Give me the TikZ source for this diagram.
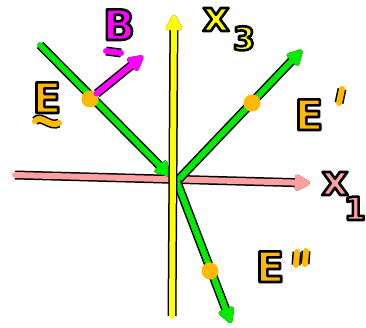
\documentclass[tikz,border=0pt]{standalone}
\usepackage{fontspec}
\setmainfont{DejaVu Sans}
\usetikzlibrary{arrows.meta}
\definecolor{gr}{RGB}{0,235,0}
\definecolor{yl}{RGB}{255,255,0}
\definecolor{pk}{RGB}{255,160,160}
\definecolor{og}{RGB}{255,185,0}
\definecolor{mg}{RGB}{255,0,255}
\newcommand\outl[2]{{\color{#1}\special{pdf:code q 0 0 0 RG 2 Tr 2.6 w 1 j}#2\special{pdf:code Q}}}
\begin{document}
\begin{tikzpicture}[x=1pt,y=-1pt,
  hs/.style={line width=6pt, line cap=round, line join=round, draw=#1,
             preaction={draw=black, line width=9pt}},
  tip/.style={-{Triangle[length=18pt,width=18pt,round]}},
  dot/.style={circle, fill=og, inner sep=0pt, minimum size=17pt},
  lab/.style={font=\fontsize{42}{42}\selectfont\bfseries, inner sep=0pt, anchor=base},
  sub/.style={font=\fontsize{32}{32}\selectfont\bfseries, inner sep=0pt, anchor=base}]
\useasboundingbox (0,0) rectangle (366,328);
\coordinate (O) at (174,179);
\coordinate (x1s) at (15,175);
\coordinate (x1e) at (310,183);
\coordinate (x3s) at (172,316);
\coordinate (x3e) at (174,15);
\coordinate (Es) at (40,45);
\coordinate (Ee) at (170,176);
\coordinate (Eps) at (178,180);
\coordinate (Epe) at (302,50);
\coordinate (Epps) at (177,182);
\coordinate (Eppe) at (231,323);
\coordinate (Bt) at (143,56);
% axes and lines
\draw[hs=pk, tip] (x1s) -- (x1e);
\draw[hs=gr, tip] (Es) -- (Ee);
\draw[hs=gr, tip] (Eps) -- (Epe);
\draw[hs=gr, tip] (Epps) -- (Eppe);
\draw[hs=yl, tip] (x3s) -- (x3e);
% dots
\node[dot] (Ed) at (90,99) {};
\node[dot] (Epd) at (252,103) {};
\node[dot] (Eppd) at (210,271) {};
\draw[hs=mg, tip] (Ed) -- (Bt);
% labels
\node[lab] (Bl) at (119,40) {\outl{mg}{B}};
\coordinate (Bu1) at (106,51);
\coordinate (Bu2) at (121,53);
\draw[hs=mg] (Bu1) -- (Bu2);
\node[lab] (El) at (47,113) {\outl{og}{E}};
\coordinate (Et1) at (35,121);
\coordinate (Et2) at (59,123);
\draw[hs=og] (Et1) .. controls (41,114) and (50,128) .. (Et2);
\node[lab] (Epl) at (309,130) {\outl{og}{E}};
\coordinate (Ep1) at (342,89);
\coordinate (Ep2) at (339,103);
\draw[hs=og] (Ep1) -- (Ep2);
\node[lab] (Eppl) at (270,282) {\outl{og}{E}};
\coordinate (Eq1) at (297,252);
\coordinate (Eq2) at (296,265);
\coordinate (Eq3) at (306,251);
\coordinate (Eq4) at (305,264);
\draw[hs=og] (Eq1) -- (Eq2);
\draw[hs=og] (Eq3) -- (Eq4);
\node[lab] (x3l) at (216,31) {\outl{yl}{x}};
\node[sub] (x3n) at (244,50) {\outl{yl}{3}};
\node[lab] (x1l) at (335,195) {\outl{pk}{x}};
\node[sub] (x1n) at (355,220) {\outl{pk}{1}};
\end{tikzpicture}
\end{document}
